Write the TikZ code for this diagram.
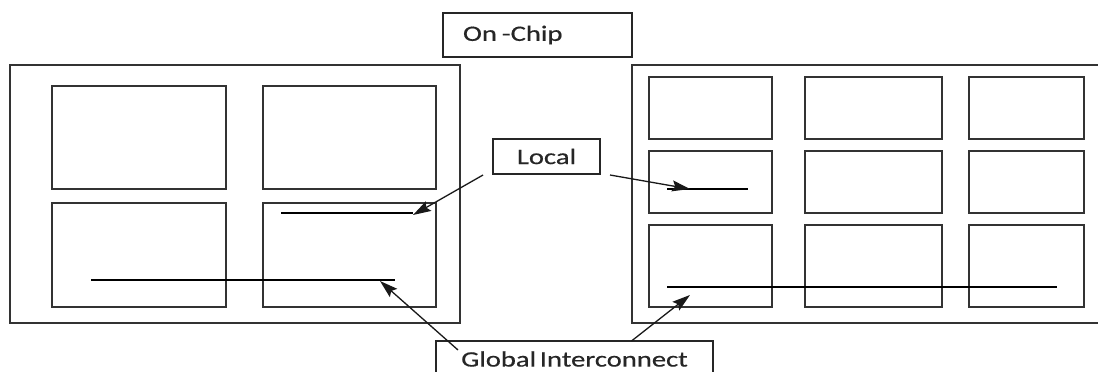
\documentclass[tikz,border=0pt]{standalone}
\usepackage{fontspec}
\setmainfont{Carlito}
\newfontfamily\lblfont[FakeStretch=1.3,FakeBold=0.5]{Carlito}
\usetikzlibrary{arrows.meta}
\begin{document}
\begin{tikzpicture}[x=1pt,y=-1pt,
  frame/.style={draw=black!80, line width=1.8pt, inner sep=0pt, outer sep=0pt, anchor=north west},
  lbl/.style={draw=black!85, line width=1.5pt, inner sep=0pt, outer sep=0pt, anchor=north west,
              font=\lblfont\fontsize{22}{24}\selectfont, text=black!85},
  wire/.style={draw=black, line width=1.3pt},
  pointer/.style={draw=black!90, line width=1.3pt, -{Stealth[length=18pt,width=11pt,inset=3pt]}}]
\clip (0,0) rectangle (1098,372);
\fill[white] (0,0) rectangle (1098,372);

% left chip: 2x2 blocks
\node[frame, minimum width=450pt, minimum height=258pt] (lchip) at (10,65) {};
\node[frame, minimum width=174pt, minimum height=103pt] (l11) at (52,86) {};
\node[frame, minimum width=173pt, minimum height=103pt] (l12) at (263,86) {};
\node[frame, minimum width=174pt, minimum height=104pt] (l21) at (52,203) {};
\node[frame, minimum width=173pt, minimum height=104pt] (l22) at (263,203) {};

% right chip: 3x3 blocks
\node[frame, minimum width=467pt, minimum height=258pt] (rchip) at (632,65) {};
\foreach \c/\x/\w in {1/649/123, 2/805/137, 3/969/115}{
  \foreach \r/\y/\h in {1/77/62, 2/151/62, 3/225/82}{
    \node[frame, minimum width=\w pt, minimum height=\h pt] (r\r\c) at (\x,\y) {};
  }
}

% labels
\node[lbl, minimum height=44pt, text width=149pt, inner xsep=20pt, align=left] (onchip) at (443,13) {On\kern5pt-Chip};
\node[lbl, minimum width=107pt, minimum height=35pt] (loc) at (493,139) {Local};
\node[lbl, minimum width=277pt, minimum height=36pt] (glob) at (436,341) {Global\,Interconnect};

% wires
\draw[wire] (281,213) -- (413,213) coordinate (lloc);
\draw[wire] (667,189) -- (748,189);
\coordinate (rloc) at (690,189);
\draw[wire] (91,280) -- (395,280);
\coordinate (lglob) at (380,281);
\draw[wire] (667,287) -- (1057,287);
\coordinate (rglob) at (690,295);

% pointers from the labels
\draw[pointer] ([xshift=-10pt,yshift=-1pt]loc.south west) -- ([yshift=-2pt]lloc);
\draw[pointer] ([xshift=10pt,yshift=-1pt]loc.south east) -- (rloc);
\draw[pointer] ([xshift=22pt,yshift=-9pt]glob.north west) -- (lglob);
\draw[pointer] ([xshift=57pt]glob.north) -- (rglob);
\end{tikzpicture}
\end{document}
